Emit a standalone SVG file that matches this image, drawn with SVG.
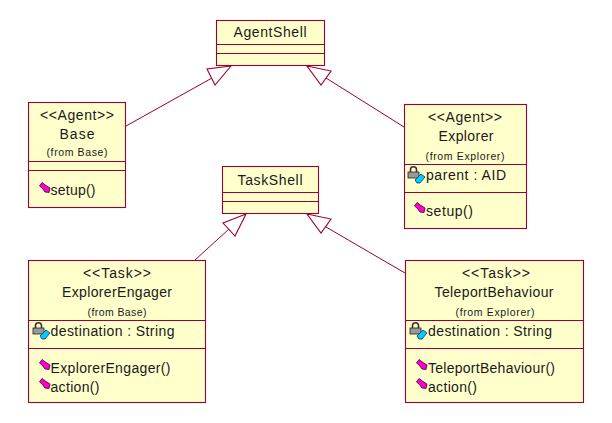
<svg xmlns="http://www.w3.org/2000/svg" width="612" height="423" viewBox="0 0 612 423">
<style>
text{font-family:"Liberation Sans",Arial,sans-serif;font-size:14px;fill:#1a1a1a}
.c{text-anchor:middle}
.s{font-size:10.5px}
.b{fill:#ffffcc;stroke:#990033;stroke-width:1.1}
.d{stroke:#990033;stroke-width:1.1;fill:none}
.l{stroke:#990033;stroke-width:1;fill:none}
.h{stroke:#990033;stroke-width:1.1;fill:#fff}
</style>
<defs>
<g id="op">
<path d="M-0.500 -1L2 -4.500L6 -1.500L10 1L9 5.500L5 5L2 1Z" fill="#ff00cc" stroke="#330033" stroke-width="0.8"/>
</g>
<g id="attr">
<path d="M-1.500 0V-2.500a3 2.800 0 0 1 6 0V0" fill="none" stroke="#333" stroke-width="1.6"/>
<rect x="-4" y="0" width="11" height="6" fill="#999" stroke="#222" stroke-width="0.8"/>
<path d="M3 8L9 2L13 5L8 11L5 11Z" fill="#00ccff" stroke="#003366" stroke-width="0.8"/>
</g>
</defs>
<g id="connectors">
<path class="l" d="M126 126L212 78M404 127L326 78M195 260L229 229M405 273L326 227"/>
<path class="h" d="M231 66L207 69L215 85Z"/>
<path class="h" d="M307 66L331 71L321 85Z"/>
<path class="h" d="M246 214L223 223L235 236Z"/>
<path class="h" d="M307 214L331 219L321 233Z"/>
</g>
<g id="AgentShell">
<rect class="b" x="216.500" y="20.500" width="108" height="45"/>
<path class="d" d="M216.500 44.500H324.500M216.500 53.500H324.500"/>
<text class="c" x="270" y="37" textLength="73">AgentShell</text>
</g>
<g id="TaskShell">
<rect class="b" x="222.500" y="166.500" width="96" height="47"/>
<path class="d" d="M222.500 192.500H318.500M222.500 201.500H318.500"/>
<text class="c" x="270" y="185" textLength="65">TaskShell</text>
</g>
<g id="Base">
<rect class="b" x="28.500" y="102.500" width="97" height="105"/>
<path class="d" d="M28.500 161.500H125.500M28.500 170.500H125.500"/>
<text class="c" x="77" y="120" textLength="74">&lt;&lt;Agent&gt;&gt;</text>
<text class="c" x="77" y="139" textLength="35">Base</text>
<text class="c s" x="77" y="156" textLength="61">(from Base)</text>
<use href="#op" x="40" y="187"/>
<text x="50.500" y="195" textLength="45">setup()</text>
</g>
<g id="Explorer">
<rect class="b" x="404.500" y="104.500" width="122" height="124"/>
<path class="d" d="M404.500 164.500H526.500M404.500 192.500H526.500"/>
<text class="c" x="465" y="122" textLength="74">&lt;&lt;Agent&gt;&gt;</text>
<text class="c" x="466" y="141" textLength="55">Explorer</text>
<text class="c s" x="465" y="160" textLength="79">(from Explorer)</text>
<use href="#attr" x="412" y="172"/>
<text x="426" y="180" textLength="80">parent : AID</text>
<use href="#op" x="415" y="207"/>
<text x="426" y="216" textLength="47">setup()</text>
</g>
<g id="ExplorerEngager">
<rect class="b" x="28.500" y="260.500" width="177" height="142"/>
<path class="d" d="M28.500 320.500H205.500M28.500 348.500H205.500"/>
<text class="c" x="117" y="278" textLength="68">&lt;&lt;Task&gt;&gt;</text>
<text class="c" x="117" y="297" textLength="110">ExplorerEngager</text>
<text class="c s" x="117" y="316" textLength="59">(from Base)</text>
<use href="#attr" x="37" y="328"/>
<text x="50.500" y="336" textLength="124">destination : String</text>
<use href="#op" x="40" y="364"/>
<text x="50.500" y="373" textLength="120">ExplorerEngager()</text>
<use href="#op" x="40" y="383"/>
<text x="50.500" y="392" textLength="49">action()</text>
</g>
<g id="TeleportBehaviour">
<rect class="b" x="405.500" y="260.500" width="178" height="142"/>
<path class="d" d="M405.500 320.500H583.500M405.500 348.500H583.500"/>
<text class="c" x="496" y="278" textLength="68">&lt;&lt;Task&gt;&gt;</text>
<text class="c" x="494" y="297" textLength="119">TeleportBehaviour</text>
<text class="c s" x="495" y="316" textLength="79">(from Explorer)</text>
<use href="#attr" x="414" y="328"/>
<text x="428" y="336" textLength="124">destination : String</text>
<use href="#op" x="417" y="364"/>
<text x="428" y="373" textLength="127">TeleportBehaviour()</text>
<use href="#op" x="417" y="383"/>
<text x="428" y="392" textLength="49">action()</text>
</g>
</svg>
